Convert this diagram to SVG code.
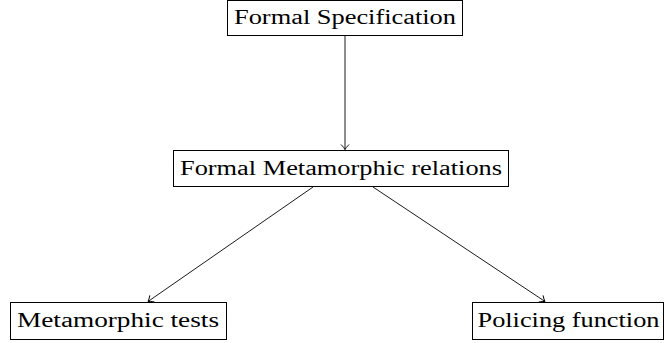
<svg xmlns="http://www.w3.org/2000/svg" width="665" height="343" viewBox="0 0 665 343">
<style>
.box{fill:#fff;stroke:#000;stroke-width:1}
.t{font-family:"Liberation Serif","DejaVu Serif",serif;font-size:20px;fill:#000;text-anchor:middle}
.c{stroke:#000;stroke-width:0.9;fill:none}
</style>
<defs>
<marker id="ah" viewBox="-6 -5 8 10" refX="0" refY="0" markerWidth="8" markerHeight="10" markerUnits="userSpaceOnUse" orient="auto">
<path d="M-5,-4 Q-2,-1 0,0 Q-2,1 -5,4" fill="none" stroke="#000" stroke-width="0.9"/>
</marker>
</defs>
<g id="connectors">
<line class="c" x1="345" y1="36" x2="345" y2="149.5" marker-end="url(#ah)"/>
<line class="c" x1="313" y1="187" x2="148" y2="301.5" marker-end="url(#ah)"/>
<line class="c" x1="373" y1="187" x2="545" y2="301.5" marker-end="url(#ah)"/>
</g>
<g id="spec">
<rect class="box" x="227.5" y="0.5" width="235" height="35"/>
<text class="t" x="345" y="24" textLength="222" lengthAdjust="spacingAndGlyphs">Formal Specification</text>
</g>
<g id="mr">
<rect class="box" x="173.5" y="150.5" width="335" height="36"/>
<text class="t" x="341" y="175" textLength="322" lengthAdjust="spacingAndGlyphs">Formal Metamorphic relations</text>
</g>
<g id="tests">
<rect class="box" x="10.5" y="302.5" width="216" height="37"/>
<text class="t" x="118" y="327" textLength="202" lengthAdjust="spacingAndGlyphs">Metamorphic tests</text>
</g>
<g id="policing">
<rect class="box" x="472.5" y="302.5" width="191" height="37"/>
<text class="t" x="568.5" y="327" textLength="182" lengthAdjust="spacingAndGlyphs">Policing function</text>
</g>
</svg>
